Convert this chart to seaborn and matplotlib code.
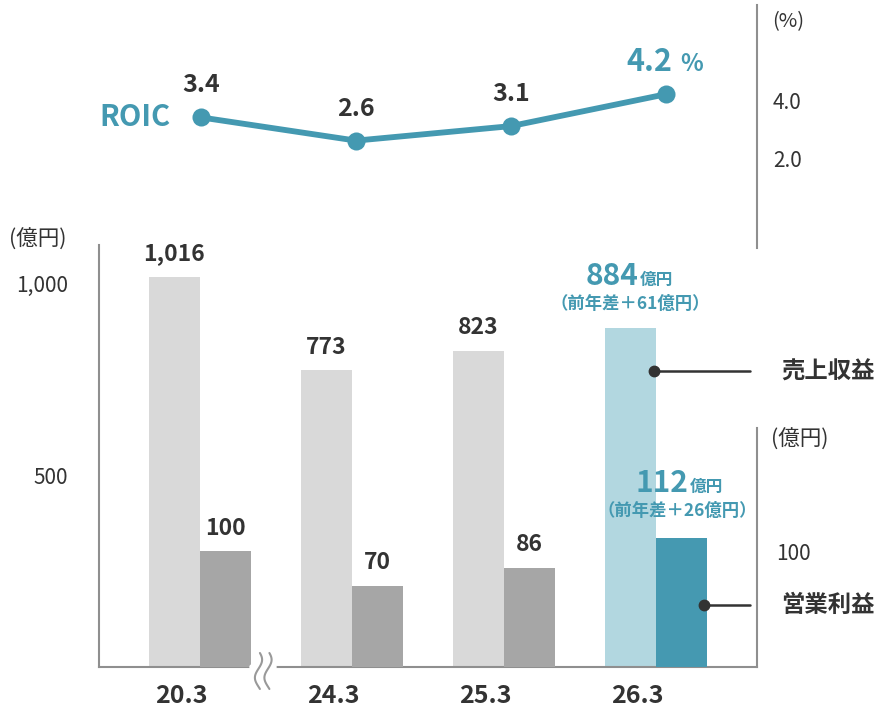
import numpy as np
import pandas as pd
import matplotlib
matplotlib.use('Agg')
import matplotlib.pyplot as plt
import matplotlib.transforms as mtransforms
import seaborn as sns

# ---------------- data ----------------
years = ['20.3', '24.3', '25.3', '26.3']
revenue = [1016, 773, 823, 884]
op_profit = [100, 70, 86, 112]
roic = [3.4, 2.6, 3.1, 4.2]
revenue_labels = ['1,016', '773', '823', '884']
op_labels = ['100', '70', '86', '112']
roic_labels = ['3.4', '2.6', '3.1', '4.2']
revenue_diff_label = '（前年差＋61億円）'
op_diff_label = '（前年差＋26億円）'
series_names = ['売上収益', '営業利益']
left_ticks = [500, 1000]
left_ticklabels = ['500', '1,000']
right_ticks = [100]
right_ticklabels = ['100']
roic_ticks = [2.0, 4.0]
roic_ticklabels = ['2.0', '4.0']

# ---------------- style ----------------
REV_GRAY = '#d9d9d9'
OP_GRAY = '#a6a6a6'
REV_HI = '#b2d7e0'
OP_HI = '#4599b1'
TEAL = '#4499b1'
DARK = '#333333'
SPINE = '#8f8f8f'

sns.set_theme(style='white')
plt.rcParams['font.family'] = ['Noto Sans CJK JP', 'DejaVu Sans']

W, H = 880, 710
fig = plt.figure(figsize=(W / 100, H / 100), dpi=100)


def fx(px):
    return px / W


def fy(py):
    return 1 - py / H


# ---------------- bar chart ----------------
ax = fig.add_axes([fx(99), fy(667), fx(757) - fx(99), fy(245) - fy(667)])
ax2 = ax.twinx()

df = pd.DataFrame({
    'year': years * 2,
    'series': [series_names[0]] * 4 + [series_names[1]] * 4,
    'rev': revenue + [np.nan] * 4,
    'op': [np.nan] * 4 + op_profit,
})

common = dict(data=df, x='year', hue='series', hue_order=series_names, order=years,
              palette=[REV_GRAY, OP_GRAY], saturation=1, width=0.67, legend=False,
              errorbar=None)
sns.barplot(y='rev', ax=ax, **common)
sns.barplot(y='op', ax=ax2, **common)

rev_bars = sorted([p for p in ax.patches if np.isfinite(p.get_height()) and p.get_height() > 0],
                  key=lambda p: p.get_x())
op_bars = sorted([p for p in ax2.patches if np.isfinite(p.get_height()) and p.get_height() > 0],
                 key=lambda p: p.get_x())
for p in rev_bars + op_bars:
    p.set_edgecolor('none')
rev_bars[-1].set_facecolor(REV_HI)
op_bars[-1].set_facecolor(OP_HI)

ax.set_xlim(-0.664, 3.664)
ax.set_ylim(0, 1099)
ax2.set_ylim(0, 365)

for s in ['top', 'right']:
    ax.spines[s].set_visible(False)
for s in ['left', 'bottom']:
    ax.spines[s].set_color(SPINE)
    ax.spines[s].set_linewidth(1.5)
for s in ['top', 'left', 'bottom']:
    ax2.spines[s].set_visible(False)
ax2.spines['right'].set_color(SPINE)
ax2.spines['right'].set_linewidth(1.5)
ax2.spines['right'].set_bounds(0, 207)

ax.set_yticks(left_ticks, left_ticklabels)
ax.tick_params(axis='y', length=0, pad=22, labelsize=15, labelcolor=DARK)
ax.tick_params(axis='x', length=0, pad=12, labelsize=18, labelcolor=DARK)
shift = mtransforms.ScaledTranslation(-19 / 100, 0, fig.dpi_scale_trans)
for lbl in ax.get_xticklabels():
    lbl.set_fontweight('bold')
    lbl.set_transform(lbl.get_transform() + shift)
ax2.set_yticks(right_ticks, right_ticklabels)
ax2.tick_params(axis='y', length=0, pad=14, labelsize=15, labelcolor=DARK)
ax.set_xlabel('')
ax.set_ylabel('')
ax2.set_ylabel('')

# value labels (non-highlighted)
for i in range(len(years) - 1):
    p = rev_bars[i]
    ax.annotate(revenue_labels[i], xy=(p.get_x() + p.get_width() / 2, p.get_height()),
                xytext=(0, 12), textcoords='offset points', ha='center', va='baseline',
                fontsize=16.5, fontweight='bold', color=DARK)
    q = op_bars[i]
    ax2.annotate(op_labels[i], xy=(q.get_x() + q.get_width() / 2, q.get_height()),
                 xytext=(0, 12), textcoords='offset points', ha='center', va='baseline',
                 fontsize=16.5, fontweight='bold', color=DARK)

# highlighted labels
p = rev_bars[-1]
cx, top = p.get_x() + p.get_width() / 2, p.get_height()
ax.annotate(revenue_labels[-1], xy=(cx, top), xytext=(6, 31), textcoords='offset points',
            ha='right', va='baseline', fontsize=21.5, fontweight='bold', color=TEAL)
ax.annotate('億円', xy=(cx, top), xytext=(7, 31), textcoords='offset points',
            ha='left', va='baseline', fontsize=12, fontweight='bold', color=TEAL)
ax.annotate(revenue_diff_label, xy=(cx, top), xytext=(0, 17), textcoords='offset points',
            ha='center', va='center', fontsize=12.5, fontweight='bold', color=TEAL)

q = op_bars[-1]
cx2, top2 = q.get_x() + q.get_width() / 2, q.get_height()
ax2.annotate(op_labels[-1], xy=(cx2, top2), xytext=(5, 33), textcoords='offset points',
             ha='right', va='baseline', fontsize=21.5, fontweight='bold', color=TEAL)
ax2.annotate('億円', xy=(cx2, top2), xytext=(6, 33), textcoords='offset points',
             ha='left', va='baseline', fontsize=12, fontweight='bold', color=TEAL)
ax2.annotate(op_diff_label, xy=(cx2, top2), xytext=(-3, 19), textcoords='offset points',
             ha='center', va='center', fontsize=12.5, fontweight='bold', color=TEAL)

# series callouts (drawn on the top-most bar axes so the dots sit above the bars)
blend = mtransforms.blended_transform_factory(ax2.transData, ax2.transAxes)
px_per_x = (757 - 99) / (3.664 + 0.664)
for bar, yfrac, name in [(rev_bars[-1], 0.701, series_names[0]),
                         (op_bars[-1], 0.147, series_names[1])]:
    right = bar.get_x() + bar.get_width()
    x0 = right - 2.5 / px_per_x
    x1 = 3 + (750 - 656) / px_per_x
    xt = 3 + (781 - 656) / px_per_x
    ax2.plot([x0, x1], [yfrac, yfrac], color=DARK, lw=1.8, transform=blend, clip_on=False, zorder=10)
    ax2.plot([x0], [yfrac], 'o', color=DARK, ms=7.5, transform=blend, clip_on=False, zorder=11)
    ax2.text(xt, yfrac, name, transform=blend, ha='left', va='center', fontsize=16.8,
             fontweight='bold', color=DARK, clip_on=False)

# axis break mark
ftr = fig.transFigure
fig.add_artist(plt.Line2D([fx(252), fx(274)], [fy(667), fy(667)], color='white', lw=4,
                          transform=ftr, zorder=20))
t = np.linspace(0, 1, 80)
for xc in (258.5, 268.0):
    xs = xc + 3.6 * np.sin(2 * np.pi * t + 0.4)
    ys = 653 + 36 * t
    fig.add_artist(plt.Line2D(fx(xs), fy(ys), color='#999999', lw=1.5, transform=ftr, zorder=21))

# unit labels
fig.text(fx(9), fy(240), '(億円)', ha='left', va='center', fontsize=15.5, color=DARK)
fig.text(fx(771), fy(440), '(億円)', ha='left', va='center', fontsize=15.5, color=DARK)
fig.text(fx(772), fy(22), '(%)', ha='left', va='center', fontsize=14.5, color=DARK)

# ---------------- ROIC line ----------------
axt = fig.add_axes([fx(99), fy(248), fx(757) - fx(99), fy(5) - fy(248)])
sns.lineplot(x=years, y=roic, ax=axt, color=TEAL, lw=4.2, marker='o', markersize=13,
             markeredgewidth=0, sort=False)
axt.set_xlim(-0.658, 3.587)
axt.set_ylim(-1.103, 7.276)
for s in ['top', 'left', 'bottom']:
    axt.spines[s].set_visible(False)
axt.spines['right'].set_color(SPINE)
axt.spines['right'].set_linewidth(1.5)
axt.yaxis.tick_right()
axt.set_yticks(roic_ticks, roic_ticklabels)
axt.tick_params(axis='y', length=0, pad=11.5, labelsize=15, labelcolor=DARK)
axt.set_xticks([])
axt.set_xlabel('')
axt.set_ylabel('')
axt.patch.set_alpha(0)

for i in range(len(years) - 1):
    axt.annotate(roic_labels[i], xy=(i, roic[i]), xytext=(0, 18), textcoords='offset points',
                 ha='center', va='baseline', fontsize=18, fontweight='bold', color=DARK)
i = len(years) - 1
axt.annotate(roic_labels[i], xy=(i, roic[i]), xytext=(4.3, 16.5), textcoords='offset points',
             ha='right', va='baseline', fontsize=22, fontweight='bold', color=TEAL)
axt.annotate('%', xy=(i, roic[i]), xytext=(10, 16.5), textcoords='offset points',
             ha='left', va='baseline', fontsize=17, fontweight='bold', color=TEAL)
axt.annotate('ROIC', xy=(0, roic[0]), xytext=(-22, 0), textcoords='offset points',
             ha='right', va='center', fontsize=21, fontweight='bold', color=TEAL)

fig.savefig('out.png', dpi=100)
